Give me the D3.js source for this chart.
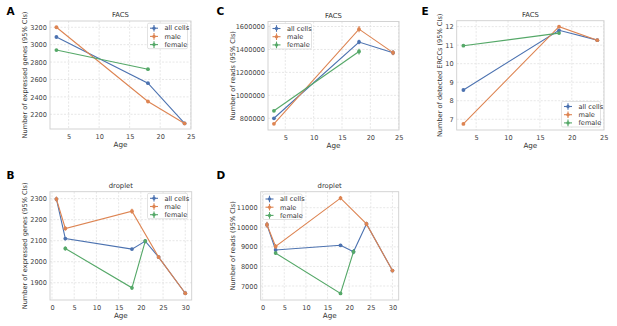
<!DOCTYPE html>
<html><head><meta charset="utf-8">
<script src="https://cdn.jsdelivr.net/npm/d3@7"></script>
<style>body{margin:0;background:#fff}svg{display:block}text{font-family:"DejaVu Sans",sans-serif}</style>
</head><body><svg id="c" width="617" height="326"></svg>
<script>
// ---- data ----
const seriesNames = ["all cells", "male", "female"];
const facsXTicks = [5, 10, 15, 20, 25];
const dropXTicks = [0, 5, 10, 15, 20, 25, 30];

// A: FACS, expressed genes
const aAllAges = [3, 18, 24], aAll = [3088, 2557, 2095], aAllErr = [8, 8, 8];
const aMaleAges = [3, 18, 24], aMale = [3200, 2347, 2095], aMaleErr = [10, 10, 8];
const aFemaleAges = [3, 18], aFemale = [2938, 2718], aFemaleErr = [10, 12];
const aYTicks = [2200, 2400, 2600, 2800, 3000, 3200];

// B: droplet, expressed genes
const bAllAges = [1, 3, 18, 21, 24, 30], bAll = [2298, 2110, 2060, 2098, 2022, 1850], bAllErr = [10, 8, 6, 10, 8, 6];
const bMaleAges = [1, 3, 18, 24, 30], bMale = [2298, 2158, 2240, 2022, 1850], bMaleErr = [12, 10, 12, 8, 6];
const bFemaleAges = [3, 18, 21], bFemale = [2063, 1876, 2098], bFemaleErr = [10, 10, 10];
const bYTicks = [1900, 2000, 2100, 2200, 2300];

// C: FACS, reads
const cAllAges = [3, 18, 24], cAll = [800000, 1465000, 1372000], cAllErr = [8000, 20000, 20000];
const cMaleAges = [3, 18, 24], cMale = [752000, 1577000, 1372000], cMaleErr = [10000, 28000, 22000];
const cFemaleAges = [3, 18], cFemale = [865000, 1382000], cFemaleErr = [10000, 25000];
const cYTicks = [800000, 1000000, 1200000, 1400000, 1600000];

// D: droplet, reads
const dAllAges = [1, 3, 18, 21, 24, 30], dAll = [10130, 8840, 9080, 8750, 10170, 7790], dAllErr = [130, 100, 70, 120, 110, 80];
const dMaleAges = [1, 3, 18, 24, 30], dMale = [10130, 9020, 11490, 10170, 7790], dMaleErr = [150, 120, 110, 110, 80];
const dFemaleAges = [3, 18, 21], dFemale = [8680, 6620, 8750], dFemaleErr = [100, 80, 120];
const dYTicks = [7000, 8000, 9000, 10000, 11000];

// E: FACS, ERCCs
const eAllAges = [3, 18, 24], eAll = [8.58, 11.8, 11.27], eAllErr = [0.05, 0.06, 0.05];
const eMaleAges = [3, 18, 24], eMale = [6.75, 12.0, 11.27], eMaleErr = [0.06, 0.07, 0.05];
const eFemaleAges = [3, 18], eFemale = [10.97, 11.65], eFemaleErr = [0.05, 0.06];
const eYTicks = [7, 8, 9, 10, 11, 12];

// ---- drawing ----
const colors = ["#4c72b0", "#dd8452", "#55a868"];
const svg = d3.select("#c");
const FS = 6.6;

function panel(o) {
  const x = d3.scaleLinear().domain(o.xd).range([o.L, o.R]);
  const y = d3.scaleLinear().domain(o.yd).range([o.B, o.T]);
  const g = svg.append("g");
  // grid
  g.selectAll(".gx").data(o.xt).join("line")
    .attr("x1", d => x(d)).attr("x2", d => x(d)).attr("y1", o.T).attr("y2", o.B)
    .attr("stroke", "#dcdcdc").attr("stroke-width", 0.7).attr("stroke-dasharray", "2,1.5");
  g.selectAll(".gy").data(o.yt).join("line")
    .attr("y1", d => y(d)).attr("y2", d => y(d)).attr("x1", o.L).attr("x2", o.R)
    .attr("stroke", "#dcdcdc").attr("stroke-width", 0.7).attr("stroke-dasharray", "2,1.5");
  // axes via d3
  const xa = g.append("g").attr("transform", `translate(0,${o.B})`)
    .call(d3.axisBottom(x).tickValues(o.xt).tickSize(0).tickPadding(5).tickFormat(d3.format("d")));
  const ya = g.append("g").attr("transform", `translate(${o.L},0)`)
    .call(d3.axisLeft(y).tickValues(o.yt).tickSize(0).tickPadding(3).tickFormat(d3.format("d")));
  [xa, ya].forEach(a => {
    a.select(".domain").remove();
    a.selectAll("text").attr("font-size", FS).attr("fill", "#444").attr("font-family", "DejaVu Sans");
  });
  // frame
  g.append("rect").attr("x", o.L).attr("y", o.T).attr("width", o.R - o.L).attr("height", o.B - o.T)
    .attr("fill", "none").attr("stroke", "#cfcfcf").attr("stroke-width", 0.9);
  // series
  o.series.forEach((s, i) => {
    const pts = s.ages.map((a, k) => ({ a, v: s.vals[k], e: s.errs[k] }));
    g.append("path").datum(pts)
      .attr("d", d3.line().x(d => x(d.a)).y(d => y(d.v)))
      .attr("fill", "none").attr("stroke", colors[i]).attr("stroke-width", 1.1);
    g.selectAll(null).data(pts).join("line")
      .attr("x1", d => x(d.a)).attr("x2", d => x(d.a))
      .attr("y1", d => y(d.v - d.e)).attr("y2", d => y(d.v + d.e))
      .attr("stroke", colors[i]).attr("stroke-width", 1.1);
    g.selectAll(null).data(pts).join("circle")
      .attr("cx", d => x(d.a)).attr("cy", d => y(d.v)).attr("r", 1.9).attr("fill", colors[i]);
  });
  // titles
  g.append("text").attr("x", (o.L + o.R) / 2).attr("y", o.T - 4).attr("text-anchor", "middle")
    .attr("font-size", FS + 0.2).attr("fill", "#333").text(o.title);
  g.append("text").attr("x", (o.L + o.R) / 2).attr("y", o.B + 17.5).attr("text-anchor", "middle")
    .attr("font-size", FS + 0.6).attr("fill", "#333").text("Age");
  g.append("text").attr("transform", `translate(${o.ylx},${(o.T + o.B) / 2}) rotate(-90)`)
    .attr("text-anchor", "middle").attr("font-size", FS).attr("fill", "#333").text(o.ylabel);
  g.append("text").attr("x", o.lx).attr("y", o.ly).attr("font-size", 10.5).attr("font-weight", "bold")
    .attr("font-family", "Liberation Sans, Arial, sans-serif").attr("fill", "#000").text(o.label);
  // legend
  const lg = o.leg;
  const lgG = g.append("g").attr("transform", `translate(${lg.x},${lg.y})`);
  lgG.append("rect").attr("width", lg.w).attr("height", 25.5).attr("rx", 1.5)
    .attr("fill", "#fff").attr("fill-opacity", 0.85).attr("stroke", "#d5d5d5").attr("stroke-width", 0.7);
  seriesNames.forEach((n, i) => {
    const yy = 5 + i * 8.2;
    lgG.append("line").attr("x1", 2.5).attr("x2", 10.5).attr("y1", yy).attr("y2", yy)
      .attr("stroke", colors[i]).attr("stroke-width", 1.1);
    lgG.append("line").attr("x1", 6.5).attr("x2", 6.5).attr("y1", yy - 3.3).attr("y2", yy + 3.3)
      .attr("stroke", colors[i]).attr("stroke-width", 1.1);
    lgG.append("circle").attr("cx", 6.5).attr("cy", yy).attr("r", 1.7).attr("fill", colors[i]);
    lgG.append("text").attr("x", 17).attr("y", yy + 2.3).attr("font-size", FS).attr("fill", "#333").text(n);
  });
}

function mk(agesArr, valsArr, errsArr) {
  return agesArr.map((a, i) => ({ ages: a, vals: valsArr[i], errs: errsArr[i] }));
}

panel({ label: "A", lx: 6.5, ly: 15, title: "FACS", ylabel: "Number of expressed genes (95% CIs)", ylx: 27,
  L: 50, R: 191, T: 21, B: 129, xd: [1.95, 25.05], yd: [2031, 3272], xt: facsXTicks, yt: aYTicks,
  leg: { x: 147.5, y: 23.2, w: 40 },
  series: mk([aAllAges, aMaleAges, aFemaleAges], [aAll, aMale, aFemale], [aAllErr, aMaleErr, aFemaleErr]) });

panel({ label: "C", lx: 216.5, ly: 15, title: "FACS", ylabel: "Number of reads (95% CIs)", ylx: 235,
  L: 268, R: 399, T: 21.5, B: 130, xd: [1.95, 25.05], yd: [697800, 1643700], xt: facsXTicks, yt: cYTicks,
  leg: { x: 270, y: 23.5, w: 41.5 },
  series: mk([cAllAges, cMaleAges, cFemaleAges], [cAll, cMale, cFemale], [cAllErr, cMaleErr, cFemaleErr]) });

panel({ label: "E", lx: 421.5, ly: 15, title: "FACS", ylabel: "Number of detected ERCCs (95% CIs)", ylx: 441.5,
  L: 456.7, R: 604, T: 20.7, B: 130, xd: [1.95, 25.05], yd: [6.42, 12.32], xt: facsXTicks, yt: eYTicks,
  leg: { x: 561.5, y: 101.5, w: 39 },
  series: mk([eAllAges, eMaleAges, eFemaleAges], [eAll, eMale, eFemale], [eAllErr, eMaleErr, eFemaleErr]) });

panel({ label: "B", lx: 6.5, ly: 178.5, title: "droplet", ylabel: "Number of expressed genes (95% CIs)", ylx: 27,
  L: 50, R: 191.7, T: 191.7, B: 300, xd: [-0.45, 31.45], yd: [1818, 2333], xt: dropXTicks, yt: bYTicks,
  leg: { x: 147.5, y: 193.3, w: 40 },
  series: mk([bAllAges, bMaleAges, bFemaleAges], [bAll, bMale, bFemale], [bAllErr, bMaleErr, bFemaleErr]) });

panel({ label: "D", lx: 216.5, ly: 178.5, title: "droplet", ylabel: "Number of reads (95% CIs)", ylx: 235,
  L: 260.7, R: 398.7, T: 191.7, B: 300, xd: [-0.45, 31.45], yd: [6285, 11817], xt: dropXTicks, yt: dYTicks,
  leg: { x: 263, y: 194, w: 39 },
  series: mk([dAllAges, dMaleAges, dFemaleAges], [dAll, dMale, dFemale], [dAllErr, dMaleErr, dFemaleErr]) });
</script></body></html>
